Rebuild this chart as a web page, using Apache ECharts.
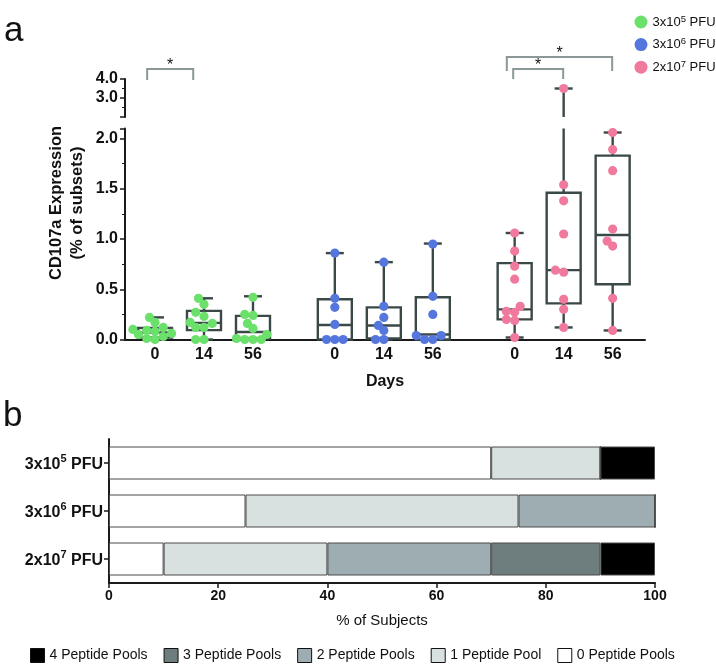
<!DOCTYPE html>
<html><head><meta charset="utf-8">
<script src="https://cdn.jsdelivr.net/npm/echarts@6/dist/echarts.min.js"></script>
<style>html,body{margin:0;padding:0;background:#fff}#c{width:716px;height:665px}</style>
</head><body><div id="c"></div><script>
// ---------------- DATA ----------------
const days = ['0', '14', '56'];
const doses = ['3x10^5 PFU', '3x10^6 PFU', '2x10^7 PFU'];

// individual subject values (% of subsets)
const green0  = [0.22, 0.17, 0.12, 0.10, 0.09, 0.08, 0.06, 0.05, 0.03, 0.01, 0.0];
const green14 = [0.41, 0.35, 0.27, 0.23, 0.17, 0.16, 0.12, 0.12, 0.0, 0.0];
const green56 = [0.42, 0.25, 0.24, 0.16, 0.11, 0.05, 0.01, 0.0, 0.0, 0.0];
const blue0   = [0.86, 0.41, 0.32, 0.15, 0.0, 0.0, 0.0];
const blue14  = [0.77, 0.33, 0.22, 0.14, 0.09, 0.0, 0.0];
const blue56  = [0.95, 0.43, 0.25, 0.04, 0.04, 0.0, 0.0];
const pink0   = [1.06, 0.88, 0.73, 0.60, 0.33, 0.28, 0.27, 0.20, 0.19, 0.02];
const pink14  = [3.5, 1.54, 1.38, 1.05, 0.69, 0.67, 0.40, 0.30, 0.12];
const pink56  = [2.06, 1.89, 1.68, 1.10, 0.98, 0.93, 0.41, 0.09];

// box statistics [min, Q1, median, Q3, max]
const greenBox = [[0, 0.02, 0.07, 0.115, 0.22], [0, 0.093, 0.165, 0.285, 0.41], [0, 0.01, 0.075, 0.235, 0.43]];
const blueBox  = [[0, 0, 0.145, 0.40, 0.86], [0, 0.01, 0.14, 0.32, 0.77], [0, 0.0, 0.05, 0.42, 0.955]];
const pinkBox  = [[0.02, 0.20, 0.30, 0.76, 1.06], [0.12, 0.36, 0.69, 1.46, 3.5], [0.09, 0.55, 1.04, 1.83, 2.06]];

// significance annotations
const sigLabels = ['*', '*', '*'];

// panel b: % of subjects responding to n peptide pools
const poolNames = ['0 Peptide Pools', '1 Peptide Pool', '2 Peptide Pools', '3 Peptide Pools', '4 Peptide Pools'];
const pool0 = [70, 25, 10];
const pool1 = [20, 50, 30];
const pool2 = [0, 25, 30];
const pool3 = [0, 0, 20];
const pool4 = [10, 0, 10];
const xTicksB = [0, 20, 40, 60, 80, 100];

// ---------------- LAYOUT / STYLE ----------------
const points = [[green0, green14, green56], [blue0, blue14, blue56], [pink0, pink14, pink56]];
const boxStats = [greenBox, blueBox, pinkBox];
const pools = [pool0, pool1, pool2, pool3, pool4];
const GROUP_STEP = 3.67;
const slotPos = (g, i) => g * GROUP_STEP + i;
const X_MIN = -0.612, X_MAX = 10.0;
const LOW_MAX = 2.1, UP_MIN = 2;
const R = 4.6, BOXW = 34, CAP = 9, LW = 2.4;
const FONT = 'Liberation Sans, Arial, Helvetica, sans-serif';
const BOX_COLOR = '#3b4848';
const AXIS_COLOR = '#1a1a1a';
const doseColors = ['#6be06b', '#5577dd', '#ef7a9d'];
const poolColors = ['#ffffff', '#d8e1df', '#9eadb1', '#6e7e7f', '#000000'];
// brackets: from/to in slot units, pixel offsets relative to the 4.0 tick
const brackets = [
  {from: -0.16, to: 0.78, top: -10, leg: 1},
  {from: 7.31, to: 8.33, top: -10, leg: 0},
  {from: 7.18, to: 9.33, top: -22, leg: -8}
];

const supFmt = s => s.replace(/\^(\d+)/, '{sup|$1}');
const supFmtB = s => { const m = s.match(/^(.*)\^(\d+)(.*)$/); return '{b|' + m[1] + '}{s|' + m[2] + '}{b|' + m[3] + '}'; };

function swarm(vals, toY, r) {
  const order = vals.map((v, i) => i).sort((a, b) => vals[a] - vals[b]);
  const placed = [];
  const off = new Array(vals.length).fill(0);
  const minD = 2 * r * 0.8, step = r * 0.6;
  for (const i of order) {
    const y = toY(vals[i]);
    for (let n = 0; n < 80; n++) {
      const c = n === 0 ? 0 : (n % 2 ? -1 : 1) * Math.ceil(n / 2) * step;
      if (placed.every(p => Math.hypot(p[0] - c, p[1] - y) >= minD)) {
        off[i] = c; placed.push([c, y]); break;
      }
    }
  }
  return off;
}

function renderLower(g) {
  return function (params, api) {
    const i = params.dataIndex;
    const pos = slotPos(g, i);
    const st = boxStats[g][i];
    const pts = points[g][i].filter(v => v <= LOW_MAX);
    const cx = api.coord([pos, 0])[0];
    const Y = v => api.coord([pos, Math.min(v, LOW_MAX)])[1];
    const ls = {stroke: BOX_COLOR, lineWidth: LW};
    const ch = [];
    const L = (x1, y1, x2, y2) => ch.push({type: 'line', shape: {x1, y1, x2, y2}, style: ls});
    L(cx, Y(st[0]), cx, Y(st[1]));
    L(cx, Y(st[3]), cx, Y(st[4]));
    L(cx - CAP, Y(st[0]), cx + CAP, Y(st[0]));
    if (st[4] <= LOW_MAX) L(cx - CAP, Y(st[4]), cx + CAP, Y(st[4]));
    ch.push({type: 'rect', shape: {x: cx - BOXW / 2, y: Y(st[3]), width: BOXW, height: Y(st[1]) - Y(st[3])},
      style: {fill: 'none', stroke: BOX_COLOR, lineWidth: LW}});
    L(cx - BOXW / 2, Y(st[2]), cx + BOXW / 2, Y(st[2]));
    const offs = swarm(pts, Y, R);
    pts.forEach((v, k) => ch.push({type: 'circle', shape: {cx: cx + offs[k], cy: Y(v), r: R}, style: {fill: doseColors[g]}}));
    return {type: 'group', children: ch};
  };
}

function renderUpper(g) {
  return function (params, api) {
    const i = params.dataIndex;
    const pos = slotPos(g, i);
    const st = boxStats[g][i];
    if (st[4] <= LOW_MAX) return {type: 'group', children: []};
    const pts = points[g][i].filter(v => v > LOW_MAX);
    const cx = api.coord([pos, UP_MIN])[0];
    const Y = v => api.coord([pos, v])[1];
    const ls = {stroke: BOX_COLOR, lineWidth: LW};
    const ch = [
      {type: 'line', shape: {x1: cx, y1: Y(st[4]), x2: cx, y2: Y(UP_MIN)}, style: ls},
      {type: 'line', shape: {x1: cx - CAP, y1: Y(st[4]), x2: cx + CAP, y2: Y(st[4])}, style: ls}
    ];
    const offs = swarm(pts, Y, R);
    pts.forEach((v, k) => ch.push({type: 'circle', shape: {cx: cx + offs[k], cy: Y(v), r: R}, style: {fill: doseColors[g]}}));
    return {type: 'group', children: ch};
  };
}

function renderBracket(params, api) {
  const b = brackets[params.dataIndex];
  const y4 = api.coord([0, 4])[1];
  const x1 = api.coord([b.from, 4])[0], x2 = api.coord([b.to, 4])[0];
  const yt = y4 + b.top, yl = y4 + b.leg;
  const ls = {stroke: '#8c9898', lineWidth: 2, fill: 'none'};
  return {type: 'group', children: [
    {type: 'polyline', shape: {points: [[x1, yl], [x1, yt], [x2, yt], [x2, yl]]}, style: ls},
    {type: 'text', x: (x1 + x2) / 2, y: yt - 3.5, style: {text: sigLabels[params.dataIndex], fill: '#111',
      font: '16px ' + FONT, align: 'center', verticalAlign: 'middle'}}
  ]};
}

const allPos = [];
days.forEach((d, i) => doses.forEach((s, g) => allPos.push(slotPos(g, i))));
const dayAt = v => { const i = Math.round(v - Math.floor(v / GROUP_STEP) * GROUP_STEP); return days[Math.max(0, Math.min(2, i))]; };
const isHalf = v => Math.abs(v * 2 - Math.round(v * 2)) < 1e-6;

const series = [];
doses.forEach((name, g) => {
  series.push({
    type: 'custom', name, xAxisIndex: 0, yAxisIndex: 0, clip: false,
    itemStyle: {color: doseColors[g]},
    renderItem: renderLower(g),
    encode: {x: 0, y: 1},
    data: days.map((d, i) => [slotPos(g, i), boxStats[g][i][2]])
  });
});
doses.forEach((name, g) => {
  series.push({
    type: 'custom', name: name + ' upper', xAxisIndex: 1, yAxisIndex: 1, clip: false,
    itemStyle: {color: doseColors[g]},
    renderItem: renderUpper(g),
    encode: {x: 0, y: 1},
    data: days.map((d, i) => [slotPos(g, i), 3])
  });
});
series.push({
  type: 'custom', name: 'sig', xAxisIndex: 1, yAxisIndex: 1, clip: false,
  renderItem: renderBracket, encode: {x: 0, y: 1},
  data: brackets.map(b => [b.from, 4])
});
poolNames.forEach((name, k) => {
  series.push({
    type: 'bar', name, stack: 'total', xAxisIndex: 2, yAxisIndex: 2, barWidth: 33,
    itemStyle: {color: poolColors[k], borderColor: '#4a4a4a', borderWidth: 1},
    data: pools[k]
  });
});

const boldLbl = (size) => ({fontFamily: FONT, fontWeight: 'bold', fontSize: size, color: '#111'});
const axLine = {show: true, onZero: false, lineStyle: {color: AXIS_COLOR, width: 2}};

const option = {
  animation: false,
  backgroundColor: '#fff',
  grid: [
    {left: 125, top: 128.5, width: 520, height: 211},
    {left: 125, top: 79, width: 520, height: 38},
    {left: 109, top: 439, width: 546, height: 144}
  ],
  xAxis: [
    {gridIndex: 0, type: 'value', min: X_MIN, max: X_MAX, axisLine: axLine, axisTick: {show: false}, splitLine: {show: false},
      axisLabel: Object.assign({customValues: allPos, formatter: v => dayAt(v), margin: 7}, boldLbl(16)),
      name: 'Days', nameLocation: 'middle', nameGap: 34, nameTextStyle: boldLbl(16)},
    {gridIndex: 1, type: 'value', min: X_MIN, max: X_MAX, show: false},
    {gridIndex: 2, type: 'value', min: 0, max: 100, interval: 20, axisLine: axLine, splitLine: {show: false},
      axisTick: {show: true, length: 5, lineStyle: {color: AXIS_COLOR, width: 1.5}},
      axisLabel: Object.assign({margin: 6, customValues: xTicksB}, boldLbl(14)),
      name: '% of Subjects', nameLocation: 'middle', nameGap: 30,
      nameTextStyle: {fontFamily: FONT, fontSize: 15, color: '#111'}}
  ],
  yAxis: [
    {gridIndex: 0, type: 'value', min: 0, max: LOW_MAX, interval: 0.5, axisLine: axLine, splitLine: {show: false},
      axisTick: {show: true, length: 5, lineStyle: {color: AXIS_COLOR, width: 1.5}},
      minorTick: {show: true, splitNumber: 2, length: 3, lineStyle: {color: AXIS_COLOR, width: 1}},
      axisLabel: Object.assign({margin: 7, formatter: v => isHalf(v) ? v.toFixed(1) : ''}, boldLbl(16))},
    {gridIndex: 1, type: 'value', min: UP_MIN, max: 4, interval: 1, axisLine: axLine, splitLine: {show: false},
      axisTick: {show: true, length: 5, lineStyle: {color: AXIS_COLOR, width: 1.5}},
      minorTick: {show: true, splitNumber: 2, length: 3, lineStyle: {color: AXIS_COLOR, width: 1}},
      axisLabel: Object.assign({margin: 7, formatter: v => v >= 3 ? v.toFixed(1) : ''}, boldLbl(16))},
    {gridIndex: 2, type: 'category', data: doses, inverse: true, axisLine: axLine,
      axisTick: {show: true, length: 5, alignWithLabel: true, lineStyle: {color: AXIS_COLOR, width: 1.5}},
      axisLabel: Object.assign({margin: 6, formatter: supFmtB,
        rich: {
          b: {fontFamily: FONT, fontWeight: 'bold', fontSize: 16, lineHeight: 20, verticalAlign: 'bottom', color: '#111'},
          s: {fontFamily: FONT, fontWeight: 'bold', fontSize: 11, lineHeight: 11, verticalAlign: 'top', color: '#111'}
        }}, boldLbl(16))}
  ],
  legend: [
    {data: doses, orient: 'vertical', left: 629.5, top: 9, itemWidth: 13, itemHeight: 13, itemGap: 6.6, icon: 'circle',
      itemStyle: {borderWidth: 0}, formatter: supFmt, selectedMode: false,
      textStyle: {fontFamily: FONT, fontSize: 13, color: '#111', lineHeight: 16,
        rich: {sup: {fontFamily: FONT, fontSize: 9.5, verticalAlign: 'top', lineHeight: 10, color: '#111'}}}},
    {data: poolNames.slice().reverse(), orient: 'horizontal', left: 25, top: 643, itemWidth: 14, itemHeight: 14, itemGap: 16,
      icon: 'rect', selectedMode: false, itemStyle: {borderColor: '#111', borderWidth: 1},
      textStyle: {fontFamily: FONT, fontSize: 14, color: '#111'}}
  ],
  graphic: [
    {type: 'text', x: 4, y: 31, style: {text: 'a', font: '35px ' + FONT, fill: '#111', verticalAlign: 'middle'}},
    {type: 'text', x: 3, y: 416, style: {text: 'b', font: '35px ' + FONT, fill: '#111', verticalAlign: 'middle'}},
    {type: 'text', x: 67, y: 203, rotation: Math.PI / 2,
      style: {text: 'CD107a Expression\n(% of subsets)', font: 'bold 16.5px ' + FONT, fill: '#111',
        align: 'center', verticalAlign: 'middle', lineHeight: 21}}
  ],
  series
};

const chart = echarts.init(document.getElementById('c'));
chart.setOption(option);
</script></body></html>
